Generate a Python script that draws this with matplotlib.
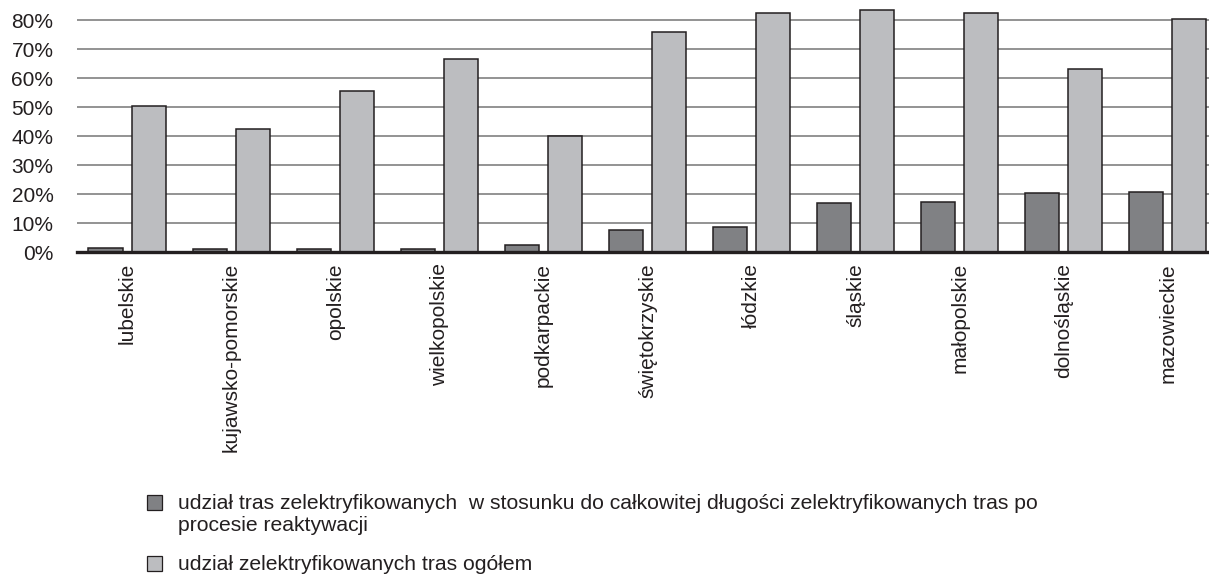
import numpy as np
import matplotlib.pyplot as plt
from matplotlib.patches import Rectangle

regions = ["lubelskie", "kujawsko-pomorskie", "opolskie", "wielkopolskie",
           "podkarpackie", "świętokrzyskie", "łódzkie", "śląskie",
           "małopolskie", "dolnośląskie", "mazowieckie"]
reactivated = [1.4, 0.9, 1.2, 1.2, 2.4, 7.7, 8.6, 16.8, 17.3, 20.4, 20.7]
total = [50.3, 42.5, 55.5, 66.7, 40.0, 75.8, 82.4, 83.3, 82.4, 63.1, 80.2]
yticks = [0, 10, 20, 30, 40, 50, 60, 70, 80]

# legend entries, one list of lines per series
labels = [["udział tras zelektryfikowanych  w stosunku do całkowitej długości zelektryfikowanych tras po",
           "procesie reaktywacji"],
          ["udział zelektryfikowanych tras ogółem"]]
dark = "#808184"
light = "#bcbdc0"
ink = "#231f20"

plt.rcParams["font.family"] = ["Liberation Sans", "DejaVu Sans"]

W, H = 1209, 575
fig = plt.figure(figsize=(W / 100, H / 100), dpi=100)
ax = fig.add_axes([77 / W, (H - 252) / H, 1 - 77 / W, 252 / H])

x = np.arange(len(regions))
w = 0.327
off = 0.209
ax.bar(x - off, reactivated, w, color=dark, edgecolor=ink, linewidth=1.1, zorder=3)
ax.bar(x + off, total, w, color=light, edgecolor=ink, linewidth=1.1, zorder=3)

ax.set_xlim(-0.483, 10.397)
ax.set_ylim(0, 86.9)
ax.set_yticks(yticks)
ax.set_yticklabels([f"{v}%" for v in yticks], fontsize=15, color=ink)
ax.set_xticks(x)
ax.set_xticklabels(regions, rotation=90, fontsize=15, color=ink, va="top")
ax.tick_params(axis="both", length=0)
ax.tick_params(axis="y", pad=17)
ax.tick_params(axis="x", pad=8)

ax.grid(axis="y", color="#8a8a8a", linewidth=1.3, zorder=0)
ax.set_axisbelow(True)
for s in ["left", "right", "top"]:
    ax.spines[s].set_visible(False)
ax.spines["bottom"].set_color(ink)
ax.spines["bottom"].set_linewidth(2.4)
ax.spines["bottom"].set_zorder(4)

# legend drawn by hand so the swatch sits at the first text line
baselines = [[509, 531], [570]]
for lines, bl, col in zip(labels, baselines, [dark, light]):
    fig.patches.append(Rectangle((147 / W, 1 - (bl[0] + 1) / H), 15 / W, 15 / H,
                                 transform=fig.transFigure, facecolor=col,
                                 edgecolor=ink, linewidth=0.9))
    for line, y in zip(lines, bl):
        fig.text(178 / W, 1 - y / H, line, fontsize=15.25, color=ink,
                 va="baseline", ha="left")

fig.savefig("out.png", dpi=100)
